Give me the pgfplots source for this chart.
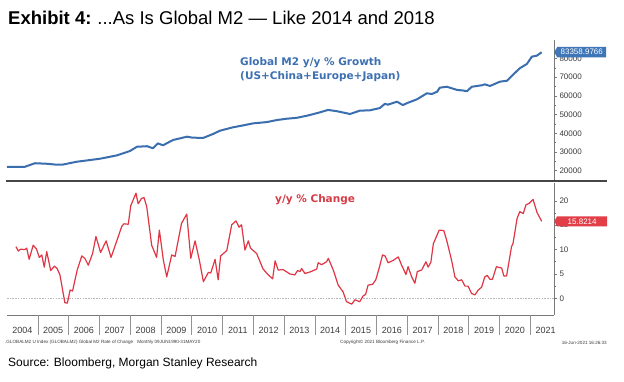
\documentclass[border=0pt]{standalone}
\usepackage{fontspec}
\setmainfont{Liberation Sans}
\newfontfamily\bbfont{DejaVu Sans}
\usepackage{pgfplots}
\pgfplotsset{compat=1.18}
\usetikzlibrary{shapes.symbols}
\definecolor{mblue}{RGB}{58,110,175}
\definecolor{mbluetext}{RGB}{61,112,178}
\definecolor{mbluebox}{RGB}{62,118,184}
\definecolor{mred}{RGB}{224,54,68}
\definecolor{mredtext}{RGB}{215,60,70}
\definecolor{mredbox}{RGB}{226,62,72}
\definecolor{axgray}{RGB}{120,120,120}
\definecolor{sepgray}{RGB}{70,70,70}
\definecolor{lblgray}{RGB}{60,60,60}
\begin{document}
\begin{tikzpicture}
\useasboundingbox (0,0) rectangle (624pt,381pt);
\fill[white] (0,0) rectangle (624pt,381pt);
% top panel
\begin{axis}[
  scale only axis, width=547pt, height=141pt,
  at={(7pt,200pt)}, anchor=south west,
  xmin=2004, xmax=2021.77, ymin=14492, ymax=89893,
  axis x line=none, axis y line=right,
  axis line style={-, draw=axgray, line width=0.6pt},
  ytick={20000,30000,40000,50000,60000,70000,80000},
  minor y tick num=1,
  tick align=outside, major tick length=3pt, minor tick length=2pt,
  tick style={axgray, line width=0.6pt},
  scaled y ticks=false,
  yticklabel style={font=\fontsize{8}{9}\selectfont, text=lblgray, xshift=-1pt},
  /pgf/number format/1000 sep={},
  /pgf/number format/assume math mode=true,
  clip=false,
]
\addplot[mblue, line width=2pt, line join=round] coordinates {
(2004.00,22100) (2004.30,22000) (2004.58,22100) (2004.91,24000) (2005.30,23700)
(2005.56,23300) (2005.82,23300) (2006.27,24800) (2007.02,26400) (2007.57,28200)
(2007.99,30500) (2008.22,32800) (2008.55,33100) (2008.74,32000) (2008.90,34600)
(2009.07,33600) (2009.39,36400) (2009.85,38200) (2010.01,37700) (2010.37,37500)
(2010.69,39600) (2010.92,41400) (2011.34,43200) (2011.66,44200) (2011.99,45300)
(2012.44,46000) (2012.77,47100) (2013.09,47800) (2013.42,48300) (2013.74,49400)
(2013.84,49800) (2014.12,51000) (2014.43,52500) (2014.72,51800) (2015.04,50700)
(2015.14,50300) (2015.46,52100) (2015.79,52300) (2016.11,53500) (2016.28,55800)
(2016.37,55300) (2016.67,56900) (2016.86,55100) (2017.02,56300) (2017.32,58200)
(2017.64,61400) (2017.80,61000) (2017.97,62200) (2018.06,64400) (2018.29,64900)
(2018.62,63200) (2018.81,62900) (2018.94,62500) (2019.10,64900) (2019.43,65700)
(2019.52,66200) (2019.69,65300) (2020.01,67600) (2020.24,68100) (2020.43,71200)
(2020.66,74800) (2020.89,77100) (2021.05,81000) (2021.21,81500) (2021.37,83359)
};
\node[signal, signal to=west, signal pointer angle=120, fill=mbluebox, draw=none,
  text=white, inner sep=1pt, minimum height=10.5pt, minimum width=52pt, anchor=west,
  font=\fontsize{8}{9}\selectfont] at (axis cs:2021.77,83358.9766) {83358.9766};
\end{axis}
% bottom panel
\begin{axis}[
  scale only axis, width=547pt, height=132pt,
  at={(7pt,66pt)}, anchor=south west,
  xmin=2004, xmax=2021.77, ymin=-3.43, ymax=23.68,
  axis x line=bottom, axis y line=right,
  axis line style={-, draw=axgray, line width=0.6pt},
  xtick={2004.5,2005.5,2006.5,2007.5,2008.5,2009.5,2010.5,2011.5,2012.5,2013.5,2014.5,2015.5,2016.5,2017.5,2018.5,2019.5,2020.5,2021.5},
  xticklabels={2004,2005,2006,2007,2008,2009,2010,2011,2012,2013,2014,2015,2016,2017,2018,2019,2020,2021},
  xtick style={draw=none},
  xticklabel style={font=\fontsize{9}{10}\selectfont, text=lblgray, yshift=-6pt},
  ytick={0,5,10,15,20},
  minor y tick num=1,
  tick align=outside, major tick length=3pt, minor tick length=2pt,
  ytick style={axgray, line width=0.6pt},
  yticklabel style={font=\fontsize{8}{9}\selectfont, text=lblgray, xshift=-1pt},
  /pgf/number format/assume math mode=true,
  clip=false,
]
\draw[gray!55, line width=0.5pt, dash pattern=on 1.5pt off 1.2pt] (axis cs:2004,0) -- (axis cs:2021.77,0);
\pgfplotsinvokeforeach{2005,2006,2007,2008,2009,2010,2011,2012,2013,2014,2015,2016,2017,2018,2019,2020,2021}{
  \draw[axgray!80, line width=0.5pt] (axis cs:#1,-3.43) -- ++(0pt,-20pt);
}
\addplot[mred, line width=1.2pt, line join=round] coordinates {
(2004.29,10.6) (2004.37,9.7) (2004.44,10.1) (2004.58,10.0) (2004.64,10.3)
(2004.72,8.0) (2004.85,10.9) (2004.96,10.1) (2005.05,8.4) (2005.13,8.9)
(2005.21,6.4) (2005.29,9.6) (2005.42,5.7) (2005.54,6.6) (2005.63,6.1)
(2005.72,4.8) (2005.88,-0.9) (2005.96,-1.0) (2006.05,1.7) (2006.13,1.5)
(2006.28,5.8) (2006.43,8.7) (2006.53,8.2) (2006.64,6.8) (2006.78,9.2)
(2006.89,12.7) (2007.04,9.4) (2007.22,11.8) (2007.38,8.4) (2007.54,11.3)
(2007.73,14.8) (2007.80,15.3) (2007.94,15.2) (2008.02,19.0) (2008.19,21.6)
(2008.26,19.4) (2008.37,20.5) (2008.45,20.7) (2008.54,18.8) (2008.70,10.9)
(2008.86,8.4) (2008.95,14.0) (2009.08,7.8) (2009.19,4.4) (2009.35,8.9)
(2009.46,8.6) (2009.67,15.4) (2009.84,17.3) (2009.97,8.2) (2010.11,11.8)
(2010.25,7.8) (2010.38,3.4) (2010.54,5.3) (2010.62,5.2) (2010.76,8.0)
(2010.86,3.8) (2010.94,8.7) (2011.14,9.8) (2011.30,15.1) (2011.44,15.9)
(2011.54,14.6) (2011.62,15.1) (2011.73,9.9) (2011.84,11.8) (2011.91,10.3)
(2012.11,9.2) (2012.32,6.0) (2012.49,4.8) (2012.63,4.0) (2012.71,7.7)
(2012.81,5.8) (2012.97,5.9) (2013.19,5.0) (2013.35,4.8) (2013.44,5.7)
(2013.52,5.5) (2013.57,6.1) (2013.68,5.1) (2013.73,5.2) (2013.84,5.4)
(2013.95,5.7) (2014.06,6.0) (2014.11,7.3) (2014.22,6.9) (2014.38,7.5)
(2014.44,8.2) (2014.60,5.8) (2014.76,2.7) (2014.92,1.3) (2015.03,-0.7)
(2015.20,-1.2) (2015.30,-0.3) (2015.46,-0.7) (2015.57,0.5) (2015.65,0.8)
(2015.73,2.7) (2015.88,2.9) (2015.98,3.8) (2016.09,6.2) (2016.20,8.9)
(2016.28,8.7) (2016.38,7.3) (2016.55,7.8) (2016.71,8.5) (2016.82,6.8)
(2016.96,4.9) (2017.03,6.5) (2017.14,4.5) (2017.25,3.1) (2017.33,5.5)
(2017.47,5.8) (2017.61,7.5) (2017.68,6.4) (2017.77,7.4) (2017.85,11.2)
(2018.04,14.0) (2018.19,13.9) (2018.28,12.0) (2018.44,7.9) (2018.55,4.4)
(2018.66,3.6) (2018.77,3.8) (2018.88,2.5) (2018.98,2.5) (2019.09,1.0)
(2019.20,0.7) (2019.31,1.7) (2019.42,2.3) (2019.52,4.4) (2019.60,4.7)
(2019.69,3.9) (2019.77,3.9) (2019.90,6.5) (2020.07,6.2) (2020.14,4.6)
(2020.23,4.6) (2020.39,10.6) (2020.44,11.3) (2020.57,16.4) (2020.66,17.8)
(2020.77,17.4) (2020.86,19.2) (2020.96,19.5) (2021.09,20.3) (2021.22,17.6)
(2021.37,15.82)
};
\node[signal, signal to=west, signal pointer angle=120, fill=mredbox, draw=none,
  text=white, inner sep=1pt, minimum height=10pt, minimum width=53pt, anchor=west,
  font=\fontsize{8}{9}\selectfont] at (axis cs:2021.77,15.8214) {15.8214};
\end{axis}
% separator
\draw[sepgray, line width=2.4pt] (6pt,199.8pt) -- (607pt,199.8pt);
% annotations
\node[anchor=west, inner sep=0pt, text=mbluetext, font=\bbfont\bfseries\fontsize{10.5}{12}\selectfont] at (240pt,318.7pt) {Global M2 y/y \% Growth};
\node[anchor=west, inner sep=0pt, text=mbluetext, font=\bbfont\bfseries\fontsize{10.5}{12}\selectfont] at (240pt,304.3pt) {(US+China+Europe+Japan)};
\node[anchor=west, inner sep=0pt, text=mredtext, font=\bbfont\bfseries\fontsize{10.5}{12}\selectfont] at (275pt,181pt) {y/y \% Change};
% title & source
\node[anchor=base west, inner sep=0pt, font=\fontsize{18.5}{21}\selectfont] at (8pt,356pt) {\textbf{Exhibit 4:}\hspace{6pt}...As Is Global M2 — Like 2014 and 2018};
\node[anchor=base west, inner sep=0pt, font=\fontsize{12}{14}\selectfont] at (8pt,15pt) {Source: Bloomberg, Morgan Stanley Research};
% footer
\node[anchor=west, inner sep=0pt, text=lblgray, font=\fontsize{4.6}{5}\selectfont] at (5pt,38.5pt) {.GLOBALM2 U Index (GLOBALM2) Global M2 Rate of Change\hspace{4pt}Monthly 09JUN1990-31MAY20};
\node[anchor=west, inner sep=0pt, text=lblgray, font=\fontsize{4.6}{5}\selectfont] at (340pt,38.5pt) {Copyright© 2021 Bloomberg Finance L.P.};
\node[anchor=east, inner sep=0pt, text=lblgray, font=\fontsize{4.6}{5}\selectfont] at (607pt,38.5pt) {16-Jun-2021 16:26:33};
\end{tikzpicture}
\end{document}
